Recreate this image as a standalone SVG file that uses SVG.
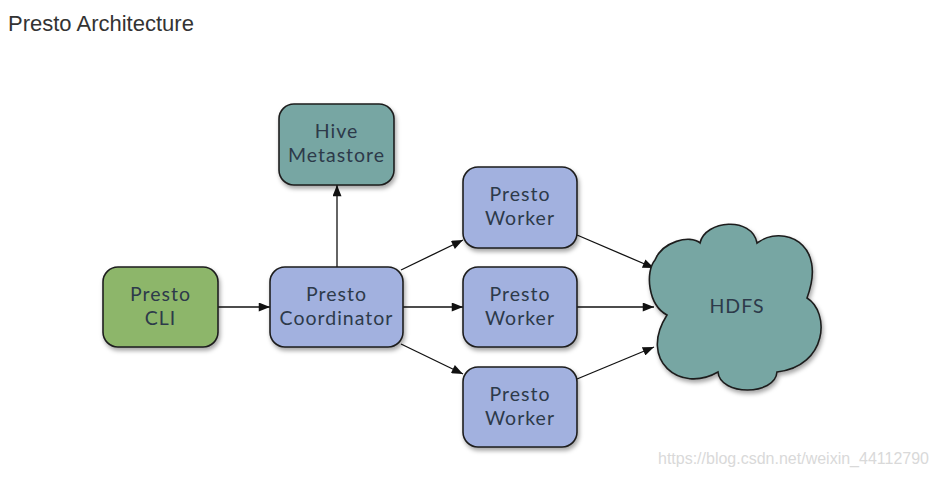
<svg xmlns="http://www.w3.org/2000/svg" width="939" height="478" viewBox="0 0 939 478">
<style>
.box{stroke:#1e1e1e;stroke-width:1.6;filter:url(#sh)}
.blue{fill:#a2b1df}
.green{fill:#8db66b}
.teal{fill:#77a6a3}
.lbl{font-family:Lato,"Open Sans",sans-serif;font-size:19.5px;fill:#2d3a4a;text-anchor:middle;letter-spacing:1px}
.edge{stroke:#111;stroke-width:1.3;fill:none;marker-end:url(#ah)}
</style>
<defs>
<filter id="sh" x="-20%" y="-20%" width="140%" height="150%">
<feDropShadow dx="1.5" dy="3" stdDeviation="2" flood-color="#000" flood-opacity="0.35"/>
</filter>
<marker id="ah" viewBox="0 0 10 8" refX="10" refY="4" markerWidth="12" markerHeight="9" markerUnits="userSpaceOnUse" orient="auto">
<path d="M0,0 L10,4 L0,8 Z" fill="#111"/>
</marker>
</defs>
<rect width="939" height="478" fill="#fff"/>
<text x="8" y="31" font-family="Liberation Sans, Arial, sans-serif" font-size="22" fill="#333">Presto Architecture</text>

<g id="connectors">
<line class="edge" x1="218" y1="307" x2="270" y2="307"/>
<line class="edge" x1="337" y1="267" x2="337" y2="185"/>
<line class="edge" x1="401" y1="270" x2="463" y2="240"/>
<line class="edge" x1="403" y1="307" x2="463" y2="307"/>
<line class="edge" x1="401" y1="344" x2="463" y2="374"/>
<line class="edge" x1="577" y1="235" x2="654" y2="268"/>
<line class="edge" x1="577" y1="307" x2="654" y2="307"/>
<line class="edge" x1="577" y1="379" x2="654" y2="347"/>
</g>

<g id="hive">
<rect class="box teal" x="279" y="104" width="115" height="81" rx="15"/>
<text class="lbl" x="336.5" y="138">Hive</text>
<text class="lbl" x="336.5" y="162">Metastore</text>
</g>
<g id="cli">
<rect class="box green" x="103" y="267" width="115" height="80" rx="15"/>
<text class="lbl" x="160.5" y="301">Presto</text>
<text class="lbl" x="160.5" y="325">CLI</text>
</g>
<g id="coordinator">
<rect class="box blue" x="270" y="267" width="133" height="80" rx="15"/>
<text class="lbl" x="336.5" y="301">Presto</text>
<text class="lbl" x="336.5" y="325">Coordinator</text>
</g>
<g id="worker1">
<rect class="box blue" x="463" y="167" width="114" height="81" rx="15"/>
<text class="lbl" x="520" y="201">Presto</text>
<text class="lbl" x="520" y="225">Worker</text>
</g>
<g id="worker2">
<rect class="box blue" x="463" y="267" width="114" height="80" rx="15"/>
<text class="lbl" x="520" y="301">Presto</text>
<text class="lbl" x="520" y="325">Worker</text>
</g>
<g id="worker3">
<rect class="box blue" x="463" y="367" width="114" height="80" rx="15"/>
<text class="lbl" x="520" y="401">Presto</text>
<text class="lbl" x="520" y="425">Worker</text>
</g>
<g id="hdfs">
<path class="box teal" d="M667,315 C648,305 645,272 655,260 C662,242 690,234 700,243 C705,220 752,216 757,243 C782,224 828,242 807,298 C830,312 828,366 777,372 C775,396 720,396 718,372 C680,394 638,360 667,315 Z"/>
<text class="lbl" x="737" y="313">HDFS</text>
</g>
<text x="929" y="464" text-anchor="end" font-family="Liberation Sans, Arial, sans-serif" font-size="16" fill="#d9d9d9">https://blog.csdn.net/weixin_44112790</text>
</svg>
